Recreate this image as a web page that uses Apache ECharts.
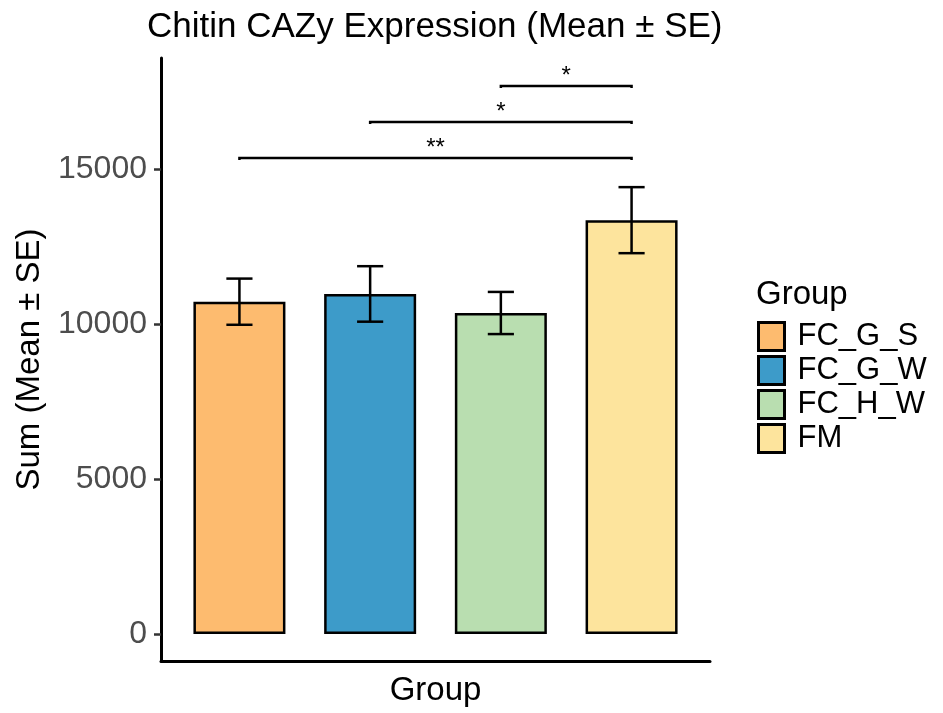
<!DOCTYPE html>
<html>
<head>
<meta charset="utf-8">
<script src="https://cdn.jsdelivr.net/npm/echarts@6/dist/echarts.min.js"></script>
<style>html,body{margin:0;padding:0;background:#fff;}#c{width:943px;height:713px;}</style>
</head>
<body>
<div id="c"></div>
<script>
const groups = ['FC_G_S', 'FC_G_W', 'FC_H_W', 'FM'];
const means = [10720, 10970, 10355, 13350];
const se = [745, 895, 680, 1065];
const colors = ['#FDBB6F', '#3D9BC9', '#B9DEB0', '#FDE49D'];
const yTicks = [0, 5000, 10000, 15000];
const sigPairs = [[1, 4], [2, 4], [3, 4]];
const sigY = [15355, 16516, 17677];
const sigLabels = ['**', '*', '*'];

const FONT = 'Liberation Sans, Arial, sans-serif';
const chart = echarts.init(document.getElementById('c'), null, {renderer: 'canvas'});

const barSeries = groups.map((g, i) => ({
  name: g,
  type: 'bar',
  barWidth: 92,
  barGap: '-100%',
  itemStyle: {color: colors[i], borderColor: '#000', borderWidth: 2.5},
  data: [[i + 1, means[i]]],
  z: 2
}));

const errData = means.map((m, i) => [i + 1, m - se[i], m + se[i]]);
const sigData = sigPairs.map((p, i) => [p[0], p[1], sigY[i], sigLabels[i]]);

chart.setOption({
  animation: false,
  title: [
    {text: 'Chitin CAZy Expression (Mean ± SE)', left: 142, top: 5,
     textStyle: {fontFamily: FONT, fontSize: 35, fontWeight: 'normal', color: '#000'}},
    {text: 'Group', left: 751, top: 273,
     textStyle: {fontFamily: FONT, fontSize: 33, fontWeight: 'normal', color: '#000'}}
  ],
  legend: {
    orient: 'vertical', left: 752, top: 316,
    itemWidth: 26, itemHeight: 28, itemGap: 3,
    icon: 'rect',
    data: groups,
    textStyle: {fontFamily: FONT, fontSize: 31, color: '#000', lineHeight: 28, padding: [0, 0, 0, 8]},
    itemStyle: {borderColor: '#000', borderWidth: 3}
  },
  grid: {left: 161, right: 233, top: 58, bottom: 52, containLabel: false},
  xAxis: {
    type: 'value', min: 0.4, max: 4.6,
    name: 'Group', nameLocation: 'middle', nameGap: 13,
    nameTextStyle: {fontFamily: FONT, fontSize: 33, color: '#000'},
    axisLine: {show: true, onZero: false, lineStyle: {color: '#000', width: 3}},
    axisTick: {show: false}, axisLabel: {show: false}, splitLine: {show: false}
  },
  yAxis: {
    type: 'value', min: -871, max: 18581,
    name: 'Sum (Mean ± SE)', nameLocation: 'middle', nameGap: 115, nameRotate: 90,
    nameTextStyle: {fontFamily: FONT, fontSize: 33, color: '#000'},
    axisLine: {show: true, onZero: false, lineStyle: {color: '#000', width: 3}},
    axisTick: {show: true, length: 7, customValues: yTicks, lineStyle: {color: '#333', width: 2.5}},
    axisLabel: {customValues: yTicks, margin: 14, fontFamily: FONT, fontSize: 32, color: '#4D4D4D',
                formatter: function (v) { return String(v); }},
    splitLine: {show: false}
  },
  series: barSeries.concat([
    {
      type: 'custom', name: 'err', z: 5,
      data: errData,
      encode: {x: 0, y: [1, 2]},
      renderItem: function (params, api) {
        const x = api.value(0);
        const lo = api.coord([x, api.value(1)]);
        const hi = api.coord([x, api.value(2)]);
        const w = api.size([0.2, 0])[0] / 2;
        const st = {stroke: '#000', lineWidth: 2.5, fill: null};
        return {type: 'group', children: [
          {type: 'line', shape: {x1: lo[0], y1: lo[1], x2: hi[0], y2: hi[1]}, style: st},
          {type: 'line', shape: {x1: lo[0] - w, y1: lo[1], x2: lo[0] + w, y2: lo[1]}, style: st},
          {type: 'line', shape: {x1: hi[0] - w, y1: hi[1], x2: hi[0] + w, y2: hi[1]}, style: st}
        ]};
      }
    },
    {
      type: 'custom', name: 'sig', z: 5,
      data: sigData,
      encode: {x: [0, 1], y: 2},
      renderItem: function (params, api) {
        const x1 = api.value(0), x2 = api.value(1), y = api.value(2);
        const a = api.coord([x1, y]);
        const b = api.coord([x2, y]);
        const label = sigData[params.dataIndex][3];
        return {type: 'group', children: [
          {type: 'polyline', shape: {points: [[a[0], a[1] + 2], a, b, [b[0], b[1] + 2]]},
           style: {stroke: '#000', lineWidth: 2.5, fill: null}},
          {type: 'text', x: (a[0] + b[0]) / 2, y: a[1] + 2,
           style: {text: label, fontFamily: FONT, fontSize: 24, fill: '#000', align: 'center', verticalAlign: 'bottom'}}
        ]};
      }
    }
  ])
});
</script>
</body>
</html>
